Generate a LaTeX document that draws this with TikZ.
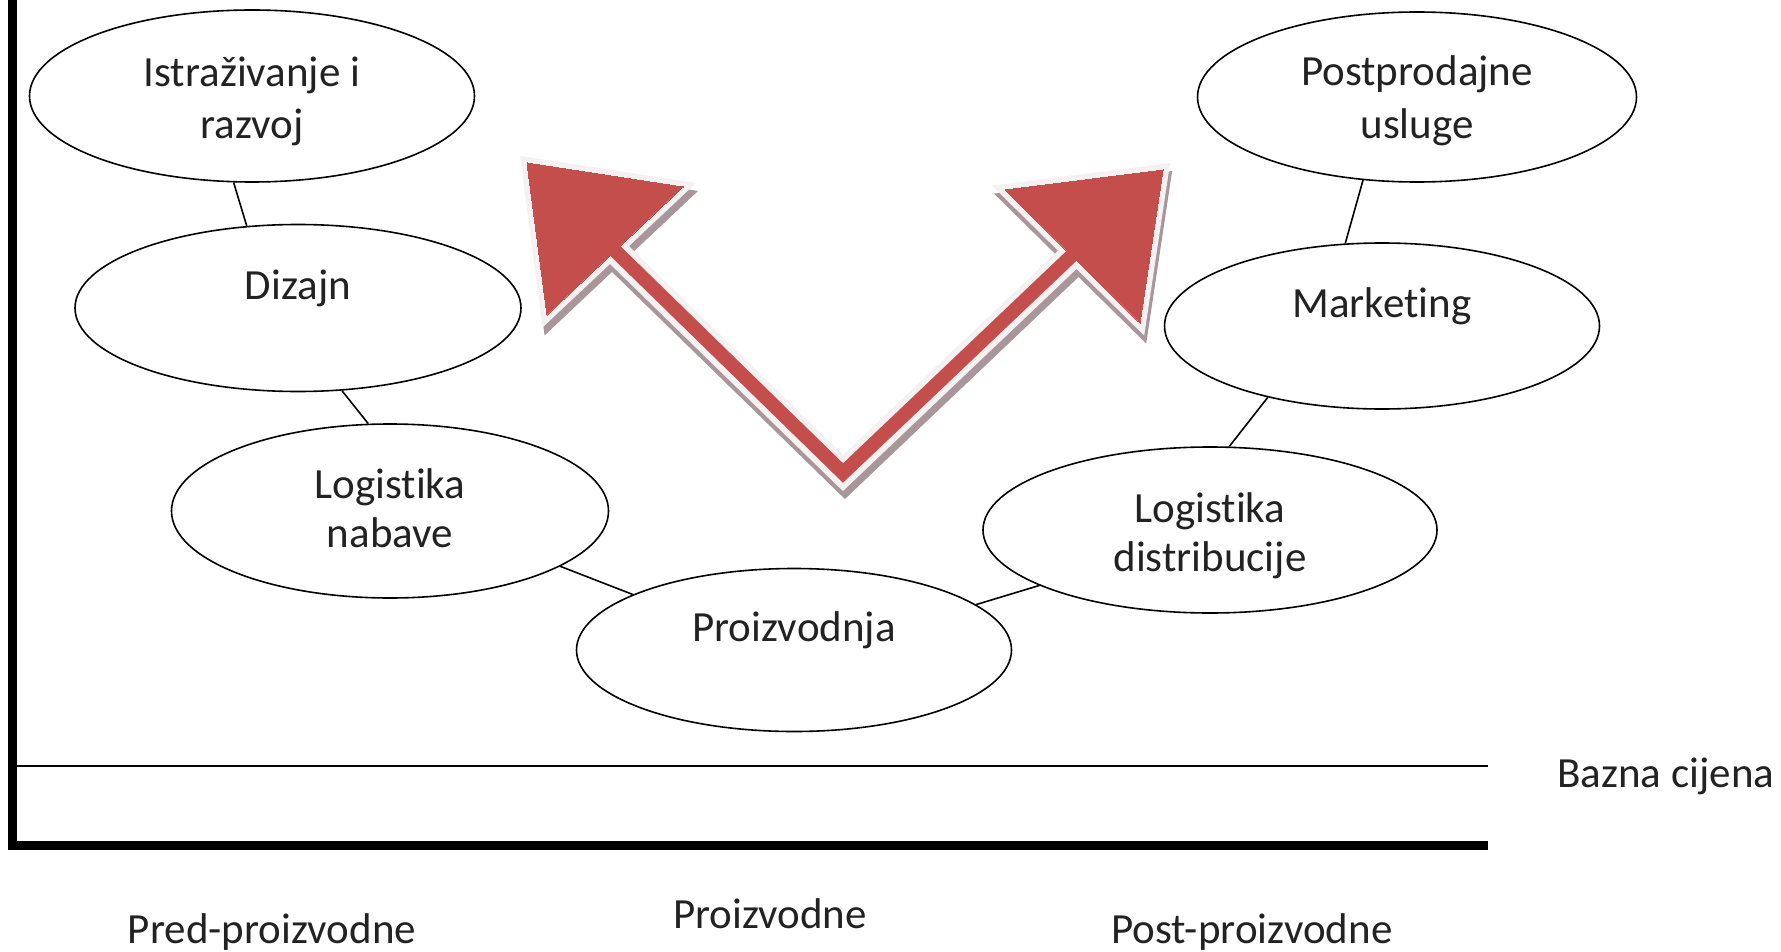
\documentclass[tikz,border=0pt]{standalone}
\usepackage{fontspec}
\setmainfont{Carlito}[Ligatures=NoCommon]
\usetikzlibrary{shapes.geometric}
\definecolor{arrowred}{RGB}{196,78,76}
\definecolor{glowgray}{RGB}{243,241,242}
\definecolor{shadowgray}{RGB}{168,150,154}
\definecolor{inkgray}{RGB}{34,34,34}
\tikzset{
	activity/.style={ellipse, draw=black, line width=0.8pt, inner sep=0pt, text=inkgray, align=center,
		text height=12pt, text depth=21pt, font=\fontsize{21.5}{24.5}\selectfont},
	link/.style={line width=0.8pt},
	stage/.style={anchor=base, inner sep=0pt, text=inkgray, font=\fontsize{21.5}{26}\selectfont}
}

\begin{document}
\begin{tikzpicture}[x=0.5pt,y=-0.5pt]
	\useasboundingbox (0,0) rectangle (1781,952);

	\foreach \dx/\dy/\clr/\bw in {2/8/shadowgray/6, 0/0/glowgray/6, 0/0/arrowred/0}{
		\begin{scope}[shift={(\dx,\dy)}, line join=miter]
			\draw[draw=\clr, line width=7pt+\bw pt] (600,236) -- (843,473) -- (1085,243);
			\filldraw[draw=\clr, fill=\clr, line width=\bw pt] (527,163) -- (683,187) -- (547,315) -- cycle;
			\filldraw[draw=\clr, fill=\clr, line width=\bw pt] (1163,170) -- (1005,190) -- (1140,323) -- cycle;
		\end{scope}
	}

	\draw[line width=4.5pt, line join=miter] (12.5,0) -- (12.5,845) -- (1488,845);
	\draw[line width=1.2pt] (17,766) -- (1488,766);

	\node[activity, minimum width=222.5pt, minimum height=86pt, text height=43pt, text depth=0pt] (istr) at (252,96) {Istraživanje i\\[1.5pt]razvoj};
	\node[activity, minimum width=223pt, minimum height=83.5pt] (dizajn) at (298,308) {Dizajn};
	\node[activity, minimum width=218.5pt, minimum height=87pt, text height=36pt, text depth=0pt] (nabava) at (390,511) {Logistika\\nabave};
	\node[activity, minimum width=217.5pt, minimum height=81.5pt] (proiz) at (794,650) {Proizvodnja};
	\node[activity, minimum width=227pt, minimum height=83pt, text height=41pt, text depth=0pt] (distrib) at (1210,530) {Logistika\\distribucije};
	\node[activity, minimum width=217.5pt, minimum height=83pt] (mkt) at (1382,326) {Marketing};
	\node[activity, minimum width=219.5pt, minimum height=85pt, text height=42pt, text depth=0pt] (usluge) at (1417,97) {Postprodajne\\[2pt]usluge};

	\draw[link] (istr.-102) -- (dizajn.122);
	\draw[link] (dizajn.-62) -- (nabava.104);
	\draw[link] (nabava.-18) -- (proiz.161);
	\draw[link] (proiz.14) -- (distrib.-162);
	\draw[link] (distrib.77) -- (mkt.-148);
	\draw[link] (mkt.114) -- (usluge.-123);

	\node[stage] (pre) at (272,943) {Pred-proizvodne};
	\node[stage] (prod) at (770,928) {Proizvodne};
	\node[stage] (post) at (1252,943) {Post-proizvodne};
	\node[stage, anchor=base west] (bazna) at (1557,787) {Bazna cijena};
\end{tikzpicture}
\end{document}
